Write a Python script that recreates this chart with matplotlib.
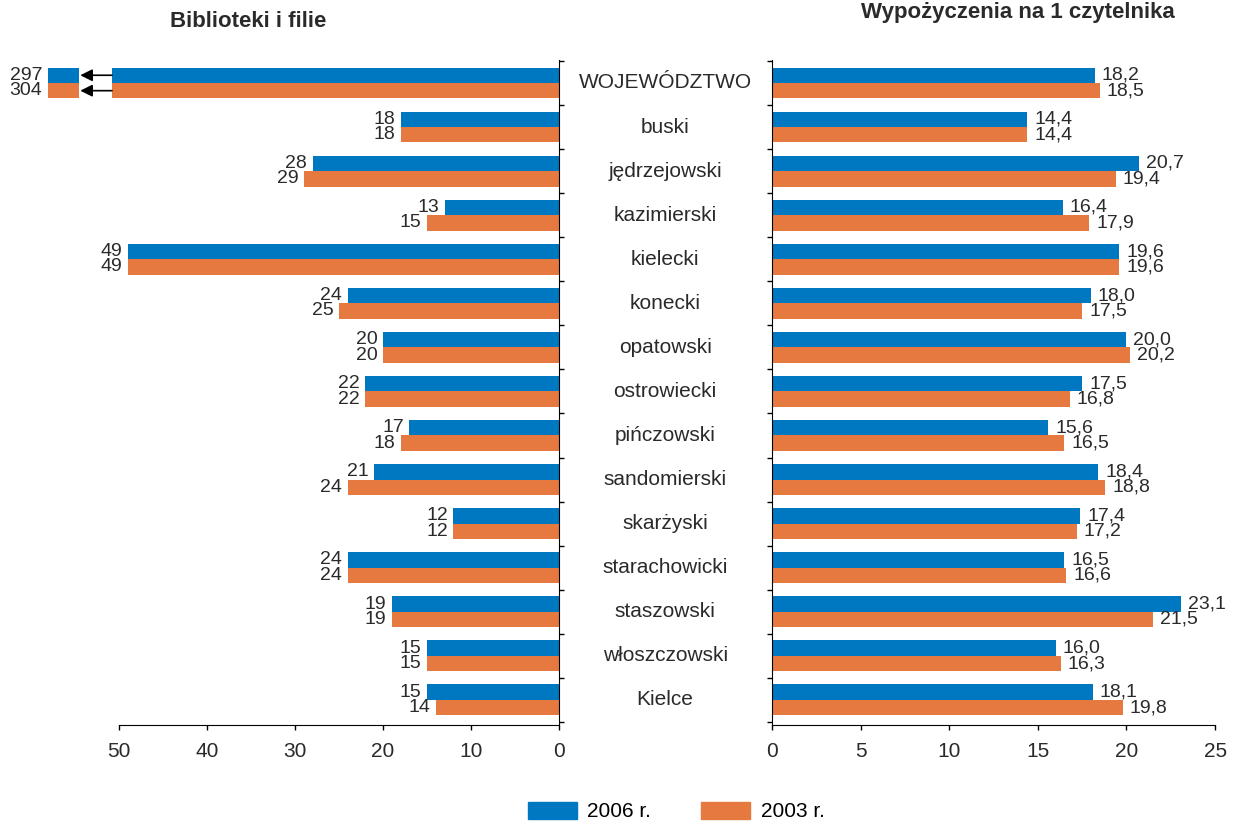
import numpy as np
import matplotlib.pyplot as plt
from matplotlib import transforms
from matplotlib.patches import Patch

plt.rcParams["font.family"] = ["Liberation Sans", "DejaVu Sans"]

categories = ["WOJEWÓDZTWO", "buski", "jędrzejowski", "kazimierski", "kielecki",
              "konecki", "opatowski", "ostrowiecki", "pińczowski", "sandomierski",
              "skarżyski", "starachowicki", "staszowski", "włoszczowski", "Kielce"]
libraries_2006 = [297, 18, 28, 13, 49, 24, 20, 22, 17, 21, 12, 24, 19, 15, 15]
libraries_2003 = [304, 18, 29, 15, 49, 25, 20, 22, 18, 24, 12, 24, 19, 15, 14]
loans_2006 = [18.2, 14.4, 20.7, 16.4, 19.6, 18.0, 20.0, 17.5, 15.6, 18.4, 17.4, 16.5, 23.1, 16.0, 18.1]
loans_2003 = [18.5, 14.4, 19.4, 17.9, 19.6, 17.5, 20.2, 16.8, 16.5, 18.8, 17.2, 16.6, 21.5, 16.3, 19.8]

BLUE = "#0077C1"
ORANGE = "#E5793F"
TEXT = "#2a2a2a"
CAP = 50.8           # where overflowing bars are cut
STUB = (54.5, 58.1)  # the short piece after the break

fig = plt.figure(figsize=(12.41, 8.26), dpi=100)
ax_l = fig.add_axes([0.0108, 0.1223, 0.4396, 0.805])
ax_r = fig.add_axes([0.6221, 0.1223, 0.357, 0.805])

y = np.arange(len(categories))
h = 0.35

# left panel: libraries
for vals, col, off in [(libraries_2006, BLUE, -h / 2), (libraries_2003, ORANGE, h / 2)]:
    for i, v in enumerate(vals):
        if v > CAP:
            ax_l.barh(y[i] + off, CAP, height=h, color=col)
            ax_l.barh(y[i] + off, STUB[1] - STUB[0], left=STUB[0], height=h, color=col)
            ax_l.annotate("", xy=(STUB[0] - 0.1, y[i] + off), xytext=(CAP, y[i] + off),
                          arrowprops=dict(arrowstyle="-|>", color="black", lw=1.2,
                                          mutation_scale=18, shrinkA=0, shrinkB=0))
            end = STUB[1]
        else:
            ax_l.barh(y[i] + off, v, height=h, color=col)
            end = v
        ax_l.annotate(str(v), xy=(end, y[i] + off), xytext=(-4, 0), textcoords="offset points",
                      ha="right", va="center", fontsize=14, color=TEXT)

ax_l.set_xlim(62, 0)
ax_l.set_ylim(14.57, -0.52)
ax_l.spines["left"].set_visible(False)
ax_l.spines["top"].set_visible(False)
ax_l.spines["bottom"].set_bounds(0, 50)
ax_l.set_xticks(range(0, 51, 10))
ax_l.yaxis.tick_right()
ax_l.set_yticks(np.arange(-0.5, 14.6, 1))
ax_l.set_yticklabels([])
ax_l.tick_params(axis="y", direction="out", length=3.6, width=1)
ax_l.tick_params(axis="x", direction="out", length=3.6, width=1, pad=9, labelsize=15,
                 labelcolor=TEXT)

# right panel: loans per reader
for vals, col, off in [(loans_2006, BLUE, -h / 2), (loans_2003, ORANGE, h / 2)]:
    ax_r.barh(y + off, vals, height=h, color=col)
    for i, v in enumerate(vals):
        ax_r.annotate(f"{v:.1f}".replace(".", ","), xy=(v, y[i] + off), xytext=(5, 0),
                      textcoords="offset points", ha="left", va="center", fontsize=14,
                      color=TEXT, annotation_clip=False)

ax_r.set_xlim(0, 25)
ax_r.set_ylim(14.57, -0.52)
ax_r.spines["right"].set_visible(False)
ax_r.spines["top"].set_visible(False)
ax_r.set_xticks(range(0, 26, 5))
ax_r.set_yticks(np.arange(-0.5, 14.6, 1))
ax_r.set_yticklabels([])
ax_r.tick_params(axis="y", direction="out", length=3.6, width=1)
ax_r.tick_params(axis="x", direction="out", length=3.6, width=1, pad=9, labelsize=15,
                 labelcolor=TEXT)

# category names between panels
trans = transforms.blended_transform_factory(fig.transFigure, ax_l.transData)
for i, name in enumerate(categories):
    fig.text(0.536, y[i], name, transform=trans, ha="center", va="center",
             fontsize=15, color=TEXT)

fig.text(0.2002, 0.9673, "Biblioteki i filie", ha="center", va="baseline",
         fontsize=16, fontweight="bold", color=TEXT)
fig.text(0.8205, 0.9782, "Wypożyczenia na 1 czytelnika", ha="center", va="baseline",
         fontsize=16, fontweight="bold", color=TEXT)

handles = [Patch(color=BLUE, label="2006 r."), Patch(color=ORANGE, label="2003 r.")]
fig.legend(handles=handles, loc="center", bbox_to_anchor=(0.545, 0.0176), ncol=2,
           frameon=False, fontsize=15, handlelength=2.35, handleheight=0.9,
           handletextpad=0.5, columnspacing=2.4, borderpad=0, borderaxespad=0)

fig.savefig("out.png", dpi=100)
